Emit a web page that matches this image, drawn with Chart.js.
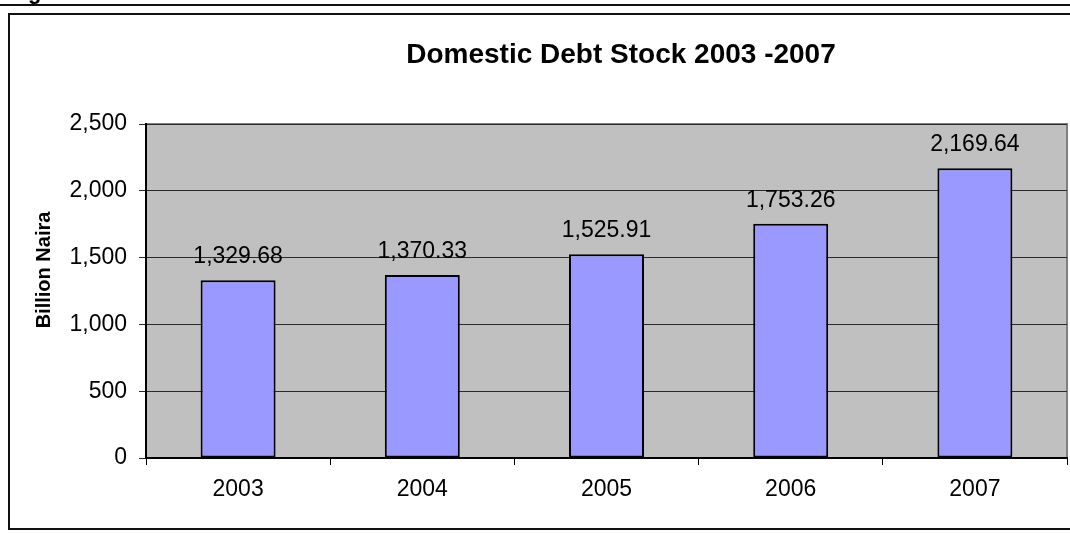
<!DOCTYPE html>
<html>
<head>
<meta charset="utf-8">
<title>Domestic Debt Stock 2003 -2007</title>
<script src="https://cdn.jsdelivr.net/npm/chart.js@4/dist/chart.umd.min.js"></script>
<style>
  html, body { margin: 0; padding: 0; background: #fff; }
  #grafica { display: block; }
</style>
</head>
<body>
<canvas id="grafica" width="1070" height="533"></canvas>
<script>
// Datos de la gráfica
const years = ['2003', '2004', '2005', '2006', '2007'];
const debtStock = [1329.68, 1370.33, 1525.91, 1753.26, 2169.64];
const yTicks = [0, 500, 1000, 1500, 2000, 2500];

const chartTitle = 'Domestic Debt Stock 2003 -2007';
const yTitle = 'Billion Naira';
const fuente = "'Liberation Sans', Arial, sans-serif";

// Marco exterior, título, fondo gris del área y etiquetas de valor
const decoracion = {
    id: 'decoracion',
    beforeDraw(chart) {
        const ctx = chart.ctx;
        const a = chart.chartArea;
        ctx.save();
        ctx.fillStyle = '#fff';
        ctx.fillRect(0, 0, chart.width, chart.height);

        // resto del pie de figura que queda cortado arriba
        ctx.fillStyle = '#000';
        ctx.font = 'bold 22px ' + fuente;
        ctx.textBaseline = 'alphabetic';
        ctx.fillText('g', 28, -1);

        ctx.strokeStyle = '#111';
        ctx.lineWidth = 2;
        ctx.beginPath();
        ctx.moveTo(0, 5); ctx.lineTo(chart.width, 5);
        ctx.moveTo(8, 14); ctx.lineTo(chart.width, 14);
        ctx.moveTo(9, 14); ctx.lineTo(9, 529);
        ctx.moveTo(8, 529); ctx.lineTo(chart.width, 529);
        ctx.stroke();

        // fondo del área de trazado
        ctx.fillStyle = '#c0c0c0';
        ctx.fillRect(a.left, a.top, a.right - a.left, a.bottom - a.top);
        ctx.strokeStyle = '#808080';
        ctx.lineWidth = 2;
        ctx.beginPath();
        ctx.moveTo(a.left, a.top); ctx.lineTo(a.right, a.top); ctx.lineTo(a.right, a.bottom);
        ctx.stroke();

        // título
        ctx.fillStyle = '#000';
        ctx.font = 'bold 28px ' + fuente;
        ctx.textAlign = 'center';
        ctx.fillText(chartTitle, 621, 63);

        // título del eje Y
        ctx.translate(44, 270);
        ctx.rotate(-Math.PI / 2);
        ctx.font = 'bold 20px ' + fuente;
        ctx.textBaseline = 'middle';
        ctx.fillText(yTitle, 0, 0);
        ctx.restore();
    },
    afterDatasetsDraw(chart) {
        const ctx = chart.ctx;
        const meta = chart.getDatasetMeta(0);
        ctx.save();
        ctx.fillStyle = '#000';
        ctx.font = '23px ' + fuente;
        ctx.textAlign = 'center';
        ctx.textBaseline = 'alphabetic';
        meta.data.forEach((bar, i) => {
            const texto = debtStock[i].toLocaleString('en-US', { minimumFractionDigits: 2, maximumFractionDigits: 2 });
            ctx.fillText(texto, bar.x, bar.y - 17);
        });
        ctx.restore();
    }
};

new Chart(document.getElementById('grafica').getContext('2d'), {
    type: 'bar',
    data: {
        labels: years,
        datasets: [{
            label: yTitle,
            data: debtStock,
            backgroundColor: '#9999ff',
            borderColor: '#000',
            borderWidth: 2,
            borderSkipped: false,
            categoryPercentage: 1,
            barPercentage: 0.407
        }]
    },
    options: {
        responsive: false,
        animation: false,
        layout: { padding: { top: 124, left: 0, right: 3, bottom: 0 } },
        plugins: {
            legend: { display: false },
            title: { display: false },
            tooltip: { enabled: false }
        },
        scales: {
            x: {
                afterFit(scale) { scale.height = 75; },
                grid: {
                    offset: true,
                    drawOnChartArea: false,
                    drawTicks: true,
                    tickLength: 7,
                    color: '#000'
                },
                border: { color: '#000', width: 2 },
                ticks: {
                    color: '#000',
                    padding: 11,
                    font: { family: fuente, size: 23 }
                }
            },
            y: {
                min: yTicks[0],
                max: yTicks[yTicks.length - 1],
                afterFit(scale) { scale.width = 146; },
                afterBuildTicks(scale) {
                    scale.ticks = yTicks.map(v => ({ value: v }));
                },
                grid: {
                    color: '#2a2a2a',
                    lineWidth: 1,
                    tickLength: 7
                },
                border: { color: '#000', width: 2 },
                ticks: {
                    color: '#000',
                    padding: 12,
                    font: { family: fuente, size: 23 },
                    callback: v => v.toLocaleString('en-US')
                }
            }
        }
    },
    plugins: [decoracion]
});
</script>
</body>
</html>
